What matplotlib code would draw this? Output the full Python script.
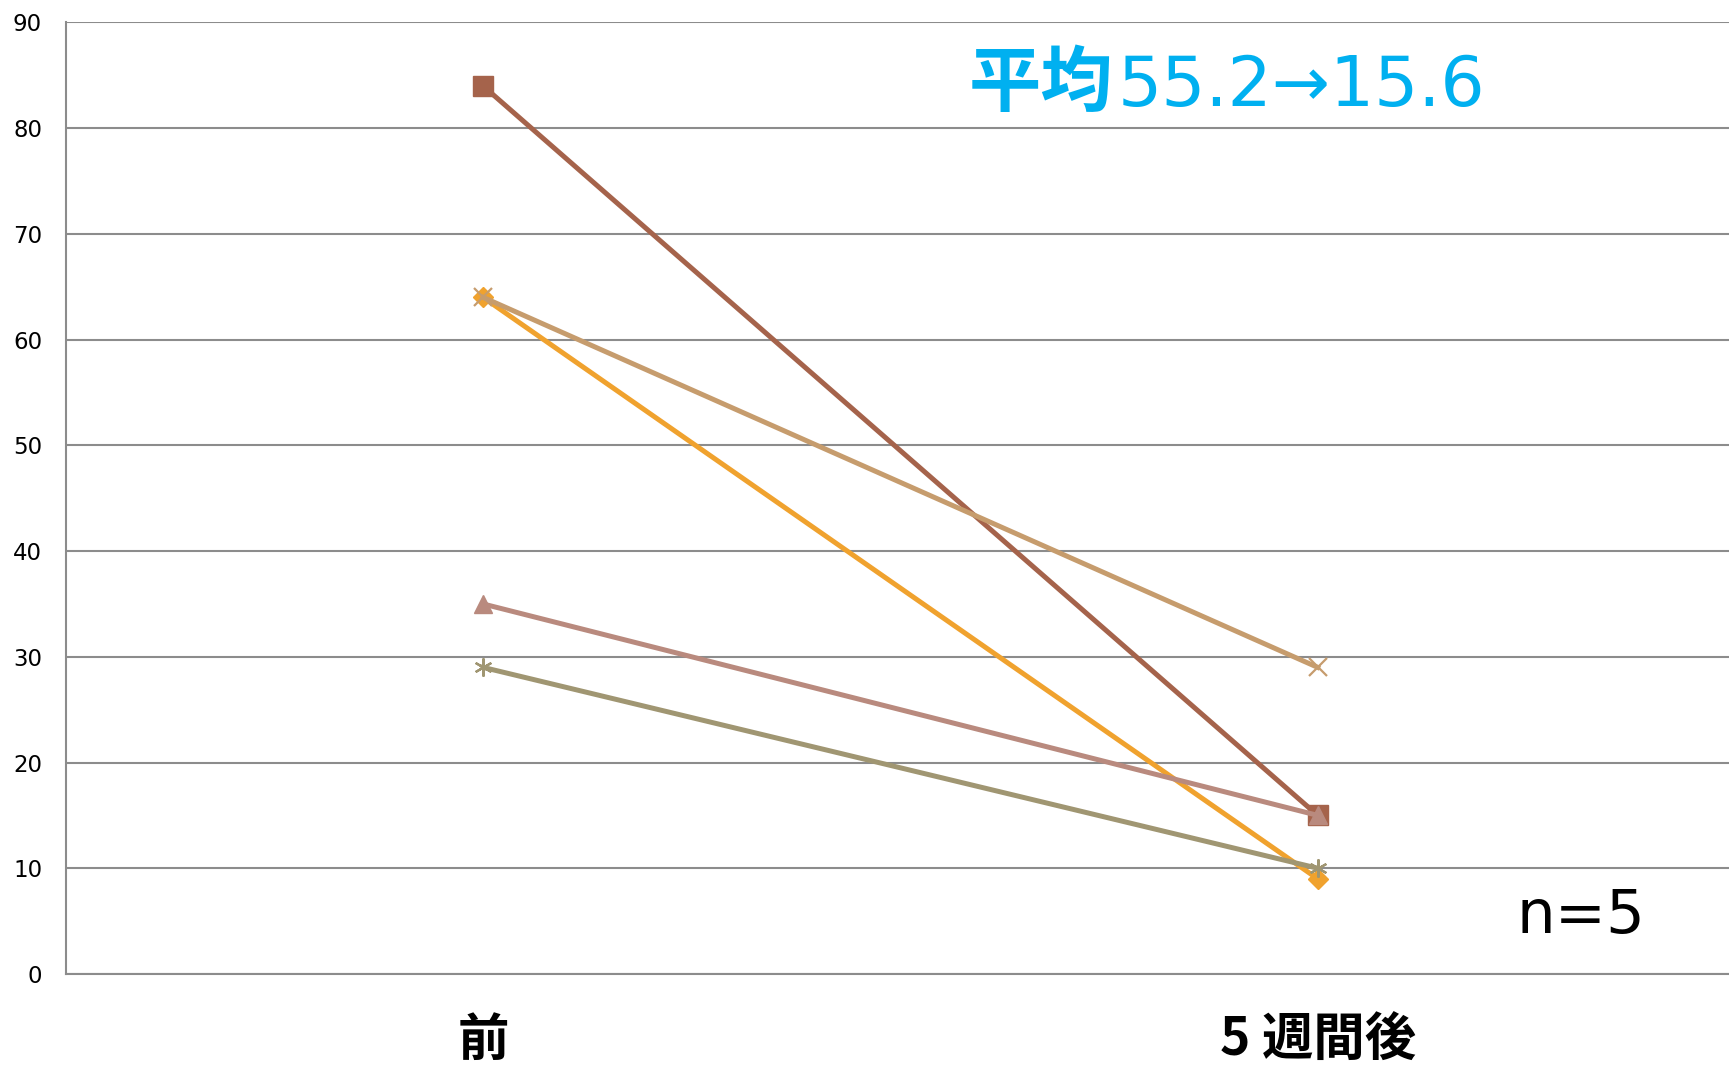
import matplotlib.pyplot as plt

# 各症例の前後スコア
categories = ['前', '5 週間後']
case1 = [84, 15]
case2 = [64, 9]
case3 = [64, 29]
case4 = [35, 15]
case5 = [29, 10]
yticks = [0, 10, 20, 30, 40, 50, 60, 70, 80, 90]

series = [
    (case1, '#A5634B', 's', 14, 1),
    (case2, '#F0A22E', 'D', 10, 1),
    (case3, '#C69C6D', 'x', 13, 1.6),
    (case4, '#B98A7E', '^', 13, 1),
    (case5, '#A09672', (6, 2, 0), 13, 1.6),
]

fig = plt.figure(figsize=(17.29, 10.69), dpi=100)
ax = fig.add_axes([0.038, 0.0889, 0.9655, 0.8901])

xs = list(range(len(categories)))
for vals, color, marker, ms, mew in series:
    ax.plot(xs, vals, color=color, linewidth=3.6, marker=marker,
            markersize=ms, markeredgewidth=mew,
            markerfacecolor=color, markeredgecolor=color)

ax.set_xlim(-0.5, 1.5)
ax.set_ylim(0, 90)
ax.set_yticks(yticks)
ax.set_yticklabels([str(v) for v in yticks], fontsize=16.5)
ax.set_xticks(xs)
ax.set_xticklabels(categories, family=['Noto Sans CJK JP', 'DejaVu Sans'],
                   fontsize=37, fontweight='bold')
ax.tick_params(axis='y', length=0, pad=17)
ax.tick_params(axis='x', length=0, pad=29)

ax.grid(axis='y', color='#8C8C8C', linewidth=1.5)
ax.set_axisbelow(True)
for side in ['top', 'right']:
    ax.spines[side].set_visible(False)
for side in ['left', 'bottom']:
    ax.spines[side].set_color('#8C8C8C')
    ax.spines[side].set_linewidth(1.5)

# 平均値の注記
ax.text(0.582, 82.1, '平均', color='#00B0F0', fontsize=52, fontweight='bold',
        family=['Noto Sans CJK JP', 'DejaVu Sans'], va='baseline', ha='left')
ax.text(0.760, 82.1, '55.2→15.6', color='#00B0F0', fontsize=50,
        va='baseline', ha='left')
ax.text(1.238, 5.4, 'n=5', color='black', fontsize=44, va='center', ha='left')

fig.savefig('out.png', dpi=100)
